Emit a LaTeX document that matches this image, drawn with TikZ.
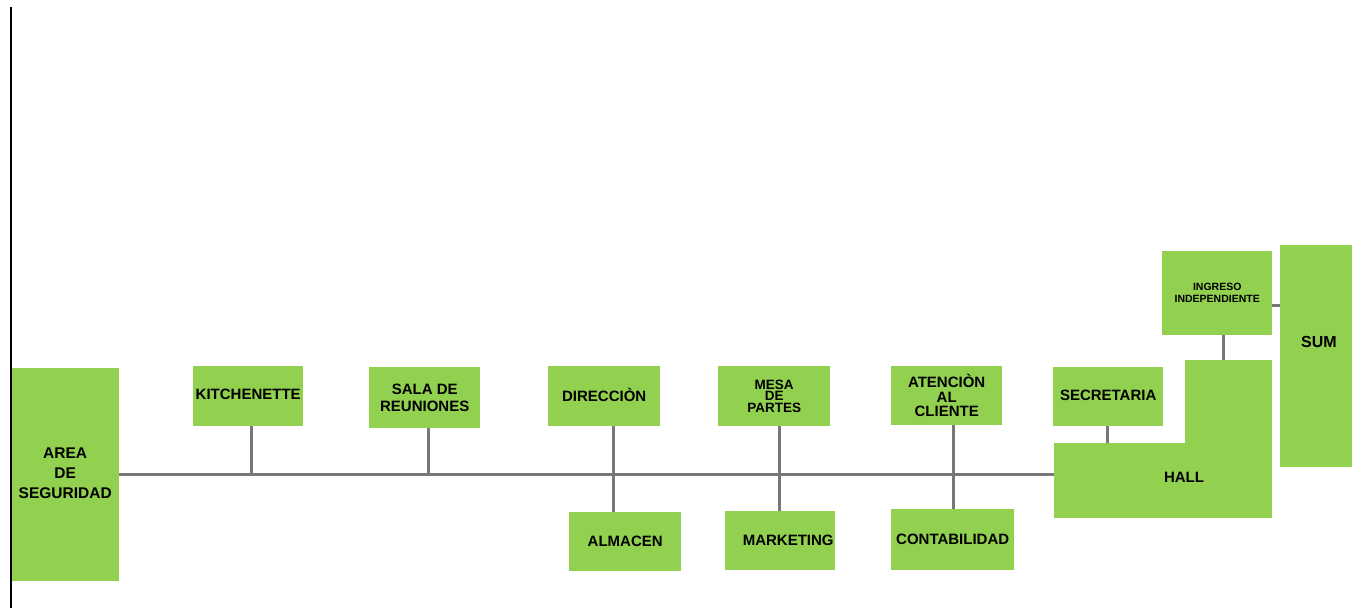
\documentclass[tikz,border=0pt]{standalone}
\usepackage{fontspec}
\setmainfont{Liberation Sans}
\definecolor{roomgreen}{RGB}{146,208,80}
\definecolor{linkgray}{RGB}{120,120,120}
\begin{document}
\begin{tikzpicture}[x=1pt,y=-1pt,
  room/.style={fill=roomgreen, draw=none, inner sep=0pt, align=center, anchor=north west,
    font=\fontsize{15}{17}\selectfont\bfseries},
  roomlabel/.style={inner sep=0pt, align=center, font=\fontsize{15}{17}\selectfont\bfseries},
  link/.style={draw=linkgray, line width=3.2pt}]
\useasboundingbox (0,0) rectangle (1352,608);

% rooms
\node[room, minimum width=108pt, minimum height=213pt, font=\fontsize{15.5}{18.5}\selectfont\bfseries]
  (area) at (11,368) {\raisebox{3pt}{\begin{tabular}{@{}c@{}}AREA\\[1.5pt]DE\\[1.5pt]SEGURIDAD\end{tabular}}};
\node[room, minimum width=110pt, minimum height=60pt] (kit) at (193,366) {\raisebox{3pt}{KITCHENETTE}};
\node[room, minimum width=111pt, minimum height=61pt] (sala) at (369,367) {SALA DE\\REUNIONES};
\node[room, minimum width=112pt, minimum height=60pt] (dir) at (548,366) {\raisebox{2pt}{DIRECCIÒN}};
\node[room, minimum width=112pt, minimum height=59pt] (alm) at (569,512) {ALMACEN};
\node[room, minimum width=112pt, minimum height=60pt, font=\fontsize{13.5}{11.5}\selectfont\bfseries]
  (mesa) at (718,366) {MESA\\DE\\PARTES};
\node[room, minimum width=110pt, minimum height=59pt] (mkt) at (725,511) {\hspace*{16pt}MARKETING};
\node[room, minimum width=111pt, minimum height=59pt, font=\fontsize{15}{14.5}\selectfont\bfseries]
  (aten) at (891,366) {ATENCIÒN\\AL\\CLIENTE};
\node[room, minimum width=123pt, minimum height=61pt] (cont) at (891,509) {\raisebox{-4pt}{CONTABILIDAD}};
\node[room, minimum width=110pt, minimum height=59pt] (sec) at (1053,367) {\raisebox{3pt}{SECRETARIA}};
\node[room, minimum width=218pt, minimum height=75pt] (hallA) at (1054,443) {};
\node[room, minimum width=87pt, minimum height=84pt] (hallB) at (1185,360) {};
\node[roomlabel] (hall) at (1184,477) {HALL};
\node[room, minimum width=110pt, minimum height=84pt, font=\fontsize{10.5}{12}\selectfont\bfseries]
  (ing) at (1162,251) {INGRESO\\INDEPENDIENTE};
\node[room, minimum width=72pt, minimum height=222pt] (sum) at (1280,245) {};
\node[roomlabel, font=\fontsize{16}{18}\selectfont\bfseries] (sumt) at (1319,342) {SUM};

% corridor and branches
\draw[link] (area.east) -- (area.east -| hallA.west);
\draw[link] ([xshift=3pt]kit.south) -- ([xshift=3pt]kit.south |- area.east);
\draw[link] ([xshift=3.5pt]sala.south) -- ([xshift=3.5pt]sala.south |- area.east);
\draw[link] ([xshift=9pt]dir.south) -- ([xshift=9pt]dir.south |- alm.north);
\draw[link] ([xshift=5pt]mesa.south) -- ([xshift=5pt]mesa.south |- mkt.north);
\draw[link] ([xshift=6.5pt]aten.south) -- ([xshift=6.5pt]aten.south |- cont.north);
\draw[link] ([xshift=-1pt]sec.south) -- ([xshift=-1pt]sec.south |- hallA.north);
\draw[link] ([xshift=6pt]ing.south) -- ([xshift=6pt]ing.south |- hallB.north);
\draw[link] ([yshift=-12pt]ing.east) -- ([yshift=-12pt]ing.east -| sum.west);

% left border line
\draw[black, line width=1.5pt] (11,7) -- (11,608);
\end{tikzpicture}
\end{document}
